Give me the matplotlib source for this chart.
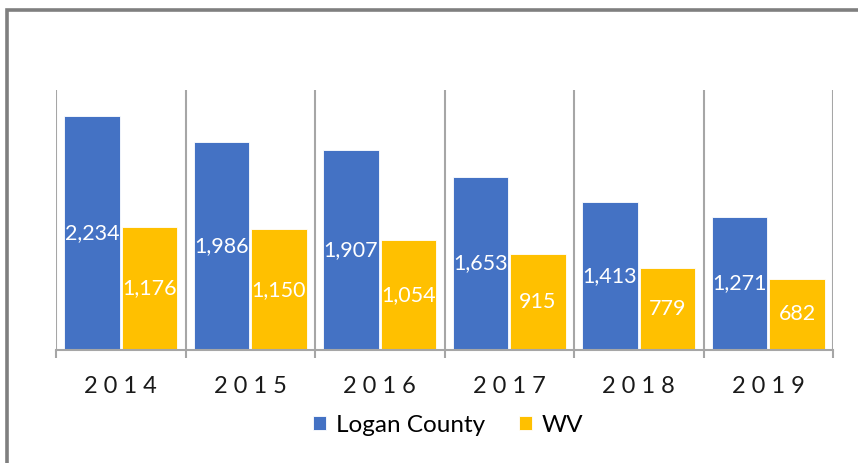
import numpy as np
import matplotlib
matplotlib.use("Agg")
import matplotlib.pyplot as plt
from matplotlib.patches import Rectangle

years = ["2014", "2015", "2016", "2017", "2018", "2019"]
logan = [2234, 1986, 1907, 1653, 1413, 1271]
wv = [1176, 1150, 1054, 915, 779, 682]

blue = "#4472C4"
gold = "#FFC000"
grid_gray = "#A6A6A6"

plt.rcParams["font.family"] = ["Lato", "DejaVu Sans"]

fig = plt.figure(figsize=(8.58, 4.63), dpi=100)
ax = fig.add_axes([56 / 858, 1 - 350 / 463, 777 / 858, 260 / 463])

# outer chart border (cut off at right and bottom like the original)
fig.patches.append(Rectangle((6.5 / 858, -0.1), 1.2, 1 - 9.5 / 463 + 0.1,
                             transform=fig.transFigure, fill=False,
                             edgecolor="#7F7F7F", linewidth=2.6))

x = np.arange(len(years))
w = 0.43
off = 0.222
b1 = ax.bar(x - off, logan, w, color=blue, edgecolor="white", linewidth=0.6, label="Logan County")
b2 = ax.bar(x + off, wv, w, color=gold, edgecolor="white", linewidth=0.6, label="WV")

for bars, vals in ((b1, logan), (b2, wv)):
    ax.bar_label(bars, labels=[f"{v:,}" for v in vals], label_type="center",
                 color="white", fontsize=15.5)

ax.set_xlim(-0.5, len(years) - 0.5)
ax.set_ylim(0, 2480)

# category separators
ax.set_xticks(np.arange(-0.5, len(years)), minor=True)
ax.grid(True, axis="x", which="minor", color=grid_gray, linewidth=1.5)
ax.set_axisbelow(True)
ax.tick_params(axis="x", which="minor", length=6, width=1.5, color=grid_gray)

ax.set_xticks(x)
ax.set_xticklabels([" ".join(y) for y in years], fontsize=17, color="#1A1A1A")
ax.tick_params(axis="x", which="major", length=0, pad=19)
ax.set_yticks([])

for side in ("top", "left", "right"):
    ax.spines[side].set_visible(False)
ax.spines["bottom"].set_color(grid_gray)
ax.spines["bottom"].set_linewidth(1.5)

fig.legend(loc="center", bbox_to_anchor=(448 / 858, 1 - 425 / 463), ncol=2,
           frameon=False, fontsize=17.5, handlelength=0.55, handleheight=0.55,
           handletextpad=0.4, columnspacing=1.4)

fig.savefig("out.png", dpi=100)
